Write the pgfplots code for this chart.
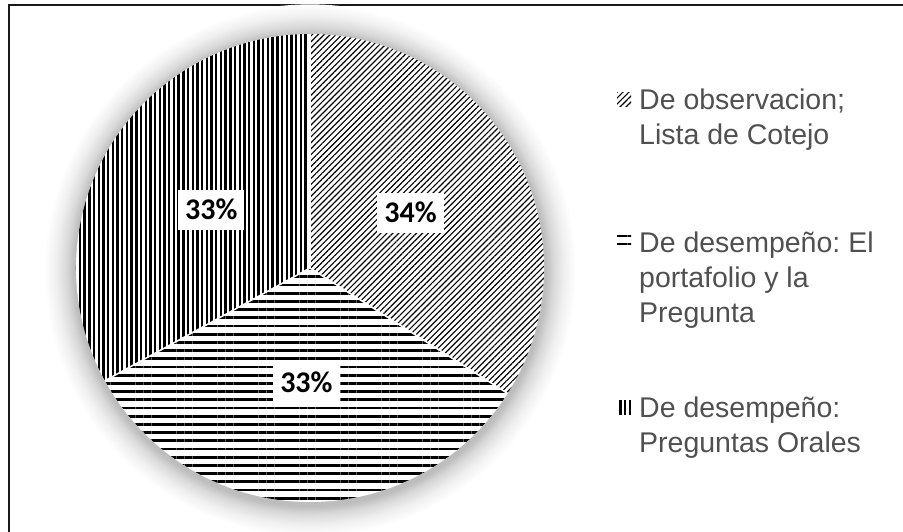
\documentclass[border=0pt]{standalone}
\usepackage{fontspec}
\setmainfont{Liberation Sans}
\newfontfamily\carlito{Carlito}
\usepackage{pgfplots}
\pgfplotsset{compat=1.18}
\usepackage{pgfplotstable}
\usetikzlibrary{patterns.meta}
\frenchspacing
\definecolor{legtext}{HTML}{505050}
\definecolor{framecol}{HTML}{1A1A1A}
\pgfdeclareradialshading{pieshadow}{\pgfpoint{0bp}{0bp}}{color(0bp)=(black!26); color(22.15bp)=(black!26); color(22.9bp)=(black!15); color(23.9bp)=(black!6); color(25bp)=(white); color(50bp)=(white)}

\pgfplotstableread{
idx value
1 34
2 33
3 33
}\piedata

\begin{document}
\begin{tikzpicture}[x=1pt,y=1pt]
\useasboundingbox (0,0) rectangle (903,531);
\fill[white] (0,0) rectangle (903,531);
\draw[framecol, line width=2pt] (9,-2) -- (9,526) -- (905,526);

\pgfplotstablegetelem{0}{value}\of\piedata \let\vA\pgfplotsretval
\pgfplotstablegetelem{1}{value}\of\piedata \let\vB\pgfplotsretval
\pgfplotstablegetelem{2}{value}\of\piedata \let\vC\pgfplotsretval
\pgfmathsetmacro\tot{\vA+\vB+\vC}
\pgfmathsetmacro\aA{90}
\pgfmathsetmacro\aB{\aA-360*\vA/\tot}
\pgfmathsetmacro\aC{\aB-360*\vB/\tot}
\pgfmathsetmacro\aD{\aC-360*\vC/\tot}
\pgfmathsetmacro\mA{(\aA+\aB)/2}
\pgfmathsetmacro\mB{(\aB+\aC)/2}
\pgfmathsetmacro\mC{(\aC+\aD)/2}
\pgfmathtruncatemacro\pA{round(100*\vA/\tot)}
\pgfmathtruncatemacro\pB{round(100*\vB/\tot)}
\pgfmathtruncatemacro\pC{round(100*\vC/\tot)}

\begin{axis}[at={(310pt,263pt)}, anchor=center, scale only axis,
  width=468pt, height=468pt, xmin=-1, xmax=1, ymin=-1, ymax=1,
  hide axis, clip=false]
% soft shadow
\shade[shading=pieshadow] (axis cs:0,-0.01) circle[radius=266pt];
\fill[white] (axis cs:0,0) circle[radius=234pt];
% slices
\fill[pattern={Lines[angle=45,distance=4.2pt,line width=1.15pt]}, pattern color=black]
  (axis cs:0,0) -- ++(\aA:234pt) arc[start angle=\aA, end angle=\aB, radius=234pt] -- cycle;
\fill[pattern={Lines[angle=0,distance=8.2pt,line width=2.8pt]}, pattern color=black]
  (axis cs:0,0) -- ++(\aB:234pt) arc[start angle=\aB, end angle=\aC, radius=234pt] -- cycle;
\fill[pattern={Lines[angle=90,distance=4.7pt,line width=2.4pt]}, pattern color=black]
  (axis cs:0,0) -- ++(\aC:234pt) arc[start angle=\aC, end angle=\aD, radius=234pt] -- cycle;
% slice borders
\draw[white, line width=1.5pt] (axis cs:0,0) -- ++(\aA:234pt);
\draw[white, line width=1.5pt] (axis cs:0,0) -- ++(\aB:234pt);
\draw[white, line width=1.5pt] (axis cs:0,0) -- ++(\aC:234pt);
% data labels
\tikzset{plab/.style={fill=white, font=\carlito\bfseries\fontsize{30}{32}\selectfont,
  text=black, inner xsep=7pt, inner ysep=10.5pt, text height=19pt, text depth=0pt}}
\node[plab] at (axis cs:0,0) [shift={(\mA:114.7pt)}] {\pA\%};
\node[plab] at (axis cs:0,0) [shift={(\mB:114.7pt)}] {\pB\%};
\node[plab] at (axis cs:0,0) [shift={(\mC:114.7pt)}] {\pC\%};
\end{axis}

% legend
\tikzset{legt/.style={text=legtext, font=\fontsize{28.5}{35}\selectfont,
  anchor=base west, inner sep=0pt}}
\fill[pattern={Lines[angle=45,distance=4.2pt,line width=1.15pt]}, pattern color=black]
  (617,424) rectangle (631,438);
\node[legt] at (639,421) {De observacion;};
\node[legt] at (639,386) {Lista de Cotejo};
\fill[pattern={Lines[angle=0,distance=8.2pt,line width=2.8pt]}, pattern color=black]
  (617,281) rectangle (631,295);
\node[legt] at (639,278) {De desempeño: El};
\node[legt] at (639,243) {portafolio y la};
\node[legt] at (639,208) {Pregunta};
\fill[pattern={Lines[angle=90,distance=4.7pt,line width=2.4pt]}, pattern color=black]
  (617,117) rectangle (631,131);
\node[legt] at (639,114) {De desempeño:};
\node[legt] at (639,79) {Preguntas Orales};
\end{tikzpicture}
\end{document}
